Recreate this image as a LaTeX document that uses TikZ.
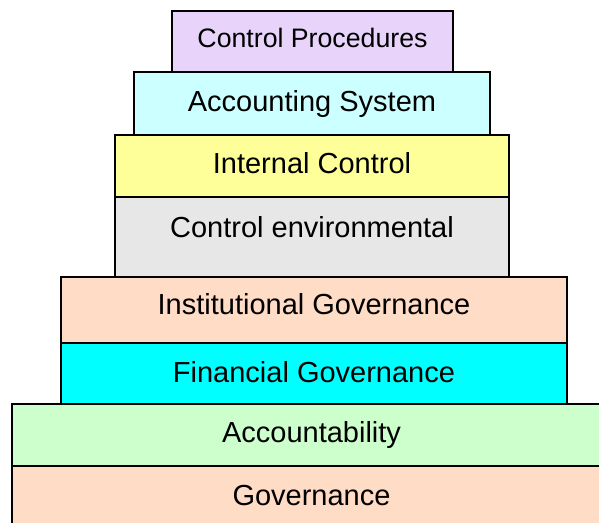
\documentclass[tikz,border=0pt]{standalone}
\usepackage{fontspec}
\setmainfont{Liberation Sans}
\definecolor{cLav}{HTML}{E8D4FA}
\definecolor{cLCyan}{HTML}{CCFFFF}
\definecolor{cYel}{HTML}{FFFF99}
\definecolor{cGray}{HTML}{E7E7E7}
\definecolor{cPeach}{HTML}{FFDCC5}
\definecolor{cCyan}{HTML}{00FFFF}
\definecolor{cGreen}{HTML}{CCFFCC}
\begin{document}
\begin{tikzpicture}[x=1pt,y=-1pt,
  layer/.style={draw=black, line width=2pt, rectangle, inner sep=0pt, outer sep=0pt,
    font=\fontsize{29}{34}\selectfont, text=black},
  small/.style={font=\fontsize{26.7}{32}\selectfont}]
\useasboundingbox (0,0) rectangle (599,522);
\clip (0,0) rectangle (599,522);
\node[layer, fill=cPeach, minimum width=599pt, minimum height=62pt] (gov) at (311.5,497) {\raisebox{4pt}{Governance}};
\node[layer, fill=cGreen, minimum width=599pt, minimum height=62pt] (acc) at (311.5,435) {Accountability};
\node[layer, fill=cCyan, minimum width=506pt, minimum height=61pt] (fin) at (314,373.5) {\raisebox{4pt}{Financial Governance}};
\node[layer, fill=cPeach, minimum width=506pt, minimum height=66pt] (inst) at (314,310) {\raisebox{12pt}{Institutional Governance}};
\node[layer, fill=cGray, minimum width=394pt, minimum height=80pt] (env) at (312,237) {\raisebox{20pt}{Control environmental}};
\node[layer, fill=cYel, minimum width=394pt, minimum height=62pt] (ic) at (312,166) {\raisebox{6pt}{Internal Control}};
\node[layer, fill=cLCyan, minimum width=356pt, minimum height=63pt] (as) at (312,103.5) {Accounting System};
\node[layer, small, fill=cLav, minimum width=281pt, minimum height=61pt] (cp) at (312.5,41.5) {\raisebox{8pt}{Control Procedures}};
\end{tikzpicture}
\end{document}
